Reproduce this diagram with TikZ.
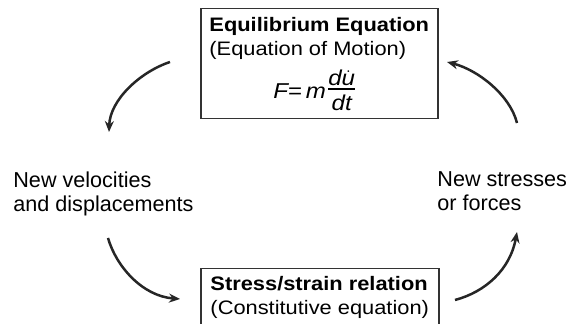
\documentclass[tikz,border=0pt]{standalone}
\usepackage{amsmath}
\usepackage{fontspec}
\setmainfont{Liberation Sans}
\newfontfamily\cajafont[FakeStretch=1.12]{Liberation Sans}
\usetikzlibrary{arrows.meta}
\tikzset{
  caja/.style={rectangle, draw=black!80, line width=0.75pt, align=left, anchor=north west, inner xsep=3pt, text=black, font=\cajafont\fontsize{9.75}{12}\selectfont},
  etiqueta/.style={align=left, anchor=north west, inner sep=0pt, text=black, font=\fontsize{10.8}{12}\selectfont},
  ciclo/.style={line width=1.25pt, draw=black!85, ->, >={Stealth[length=5.5pt,width=4.5pt]}}
}
\newcommand{\itx}[1]{\mbox{\itshape #1}}

\begin{document}
\begin{tikzpicture}[x=0.5pt, y=-0.5pt]
  \useasboundingbox (0,0) rectangle (573,324);
  \clip (0,0) rectangle (573,324);

  % 1. Caja de equilibrio (arriba)
  \node[caja, minimum width=118.5pt, minimum height=55pt] (equil) at (200,8)
    {\textbf{Equilibrium Equation}\\(Equation of Motion)\\[4.4pt]
     \hspace*{32pt}{\fontsize{10.75}{12}\selectfont$\itx{F}\mbox{=}\,\itx{m}\raisebox{2pt}{$\genfrac{}{}{0.7pt}{1}{\itx{d}\dot{\itx{u}}}{\itx{dt}\rule{0pt}{9.6pt}}$}$}};

  % 2. Caja constitutiva (abajo, cortada por el borde)
  \node[caja, minimum width=119pt, inner ysep=4pt] (consti) at (200,268)
    {\textbf{Stress/strain relation}\\(Constitutive equation)};

  % 3. Etiquetas a los lados
  \node[etiqueta] (veloc) at (13,171) {New velocities\\and displacements};
  \node[etiqueta] (tens) at (437,171) {New stresses\\or forces};

  % 4. Flechas del ciclo
  \coordinate (a1) at (170,62);  \coordinate (b1) at (109,132);
  \coordinate (a2) at (108,238); \coordinate (b2) at (180,299);
  \coordinate (a3) at (455,300); \coordinate (b3) at (517,232);
  \coordinate (a4) at (517,123); \coordinate (b4) at (447,62);
  \draw[ciclo] (a1) .. controls (140,72) and (110,100) .. (b1);
  \draw[ciclo] (a2) .. controls (116,266) and (142,296) .. (b2);
  \draw[ciclo] (a3) .. controls (485,292) and (510,270) .. (b3);
  \draw[ciclo] (a4) .. controls (510,95) and (478,70) .. (b4);

\end{tikzpicture}
\end{document}
